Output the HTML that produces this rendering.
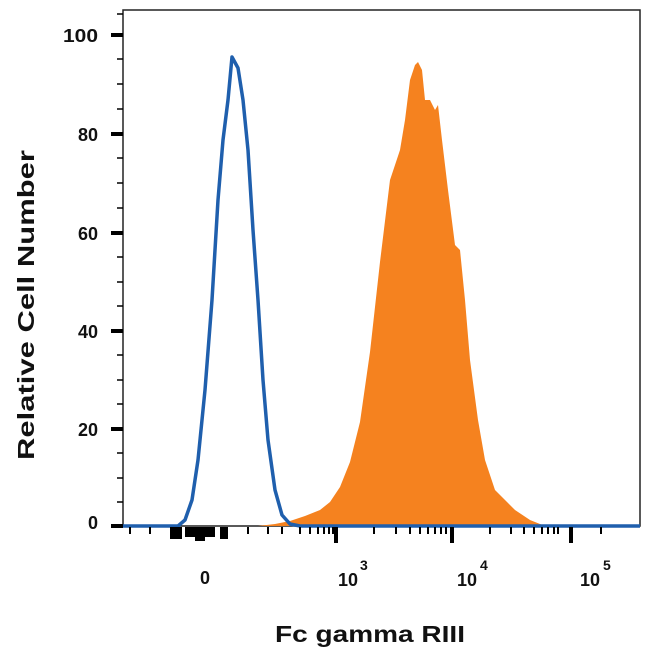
<!DOCTYPE html>
<html><head><style>body{margin:0;background:#fff}svg{display:block}text{font-family:"Liberation Sans",sans-serif;font-weight:bold;fill:#111}</style></head>
<body>
<svg width="650" height="650" viewBox="0 0 650 650">
<rect x="123" y="10" width="517" height="516" fill="none" stroke="#222" stroke-width="1.5"/>
<path d="M258,526 L275,524 L290,521 L305,516 L320,510 L330,502 L340,487 L350,462 L360,422 L370,352 L380,262 L390,180 L400,150 L405,120 L410,80 L415,65 L418,62 L422,70 L425,100 L430,100 L435,110 L438,105 L442,140 L448,190 L455,245 L460,250 L465,300 L470,360 L478,420 L485,460 L495,490 L505,500 L515,510 L530,520 L545,526 Z" fill="#f5821f"/>
<path d="M123,526 L178,526 L185,520 L192,500 L198,460 L205,390 L212,300 L218,200 L223,140 L228,100 L232,57 L238,68 L243,100 L248,150 L253,230 L258,300 L263,380 L268,440 L275,490 L282,515 L290,524 L300,526 L640,526" fill="none" stroke="#1f5fad" stroke-width="3.5" stroke-linejoin="round"/>
<g stroke="#000">
<g stroke-width="4"><line x1="111" y1="35" x2="123" y2="35"/><line x1="111" y1="134" x2="123" y2="134"/><line x1="111" y1="233" x2="123" y2="233"/><line x1="111" y1="331" x2="123" y2="331"/><line x1="111" y1="429" x2="123" y2="429"/><line x1="111" y1="526" x2="123" y2="526"/></g>
<g stroke-width="1.5"><line x1="117" y1="59" x2="123" y2="59"/><line x1="117" y1="84" x2="123" y2="84"/><line x1="117" y1="109" x2="123" y2="109"/><line x1="117" y1="158" x2="123" y2="158"/><line x1="117" y1="183" x2="123" y2="183"/><line x1="117" y1="208" x2="123" y2="208"/><line x1="117" y1="257" x2="123" y2="257"/><line x1="117" y1="282" x2="123" y2="282"/><line x1="117" y1="306" x2="123" y2="306"/><line x1="117" y1="355" x2="123" y2="355"/><line x1="117" y1="380" x2="123" y2="380"/><line x1="117" y1="404" x2="123" y2="404"/><line x1="117" y1="453" x2="123" y2="453"/><line x1="117" y1="478" x2="123" y2="478"/><line x1="117" y1="502" x2="123" y2="502"/><line x1="117" y1="14" x2="123" y2="14"/></g>
<g stroke-width="2">
<line x1="130" y1="527" x2="130" y2="534"/><line x1="150" y1="527" x2="150" y2="534"/><line x1="248" y1="527" x2="248" y2="534"/><line x1="268" y1="527" x2="268" y2="534"/><line x1="282" y1="527" x2="282" y2="534"/><line x1="300" y1="527" x2="300" y2="534"/><line x1="310" y1="527" x2="310" y2="534"/><line x1="318" y1="527" x2="318" y2="534"/><line x1="324" y1="527" x2="324" y2="534"/><line x1="329" y1="527" x2="329" y2="534"/><line x1="333" y1="527" x2="333" y2="534"/>
<line x1="374" y1="527" x2="374" y2="534"/><line x1="396" y1="527" x2="396" y2="534"/><line x1="410" y1="527" x2="410" y2="534"/><line x1="420" y1="527" x2="420" y2="534"/><line x1="428" y1="527" x2="428" y2="534"/><line x1="435" y1="527" x2="435" y2="534"/><line x1="441" y1="527" x2="441" y2="534"/><line x1="446" y1="527" x2="446" y2="534"/>
<line x1="490" y1="527" x2="490" y2="534"/><line x1="511" y1="527" x2="511" y2="534"/><line x1="524" y1="527" x2="524" y2="534"/><line x1="534" y1="527" x2="534" y2="534"/><line x1="542" y1="527" x2="542" y2="534"/><line x1="548" y1="527" x2="548" y2="534"/><line x1="554" y1="527" x2="554" y2="534"/><line x1="558" y1="527" x2="558" y2="534"/><line x1="601" y1="527" x2="601" y2="534"/>
</g>
<g stroke-width="4"><line x1="336" y1="527" x2="336" y2="543"/><line x1="452" y1="527" x2="452" y2="543"/><line x1="571" y1="527" x2="571" y2="543"/></g>
</g>
<g fill="#000"><rect x="170" y="527" width="12" height="12"/><rect x="185" y="527" width="30" height="10"/><rect x="195" y="527" width="10" height="14"/><rect x="220" y="527" width="8" height="12"/></g>
<g font-size="18" text-anchor="end"><text x="98" y="42" textLength="35" lengthAdjust="spacingAndGlyphs">100</text><text x="98" y="141">80</text><text x="98" y="240">60</text><text x="98" y="338">40</text><text x="98" y="436">20</text><text x="98" y="529">0</text></g>
<g font-size="18" text-anchor="middle"><text x="205" y="584">0</text><text x="348" y="586">10</text><text x="467" y="586">10</text><text x="590" y="586">10</text></g>
<g font-size="14"><text x="360" y="570">3</text><text x="480" y="570">4</text><text x="603" y="570">5</text></g>
<text x="275" y="642" font-size="23" textLength="190" lengthAdjust="spacingAndGlyphs">Fc gamma RIII</text>
<text transform="translate(34,460) rotate(-90)" font-size="23" textLength="310" lengthAdjust="spacingAndGlyphs">Relative Cell Number</text>
</svg>
</body></html>
